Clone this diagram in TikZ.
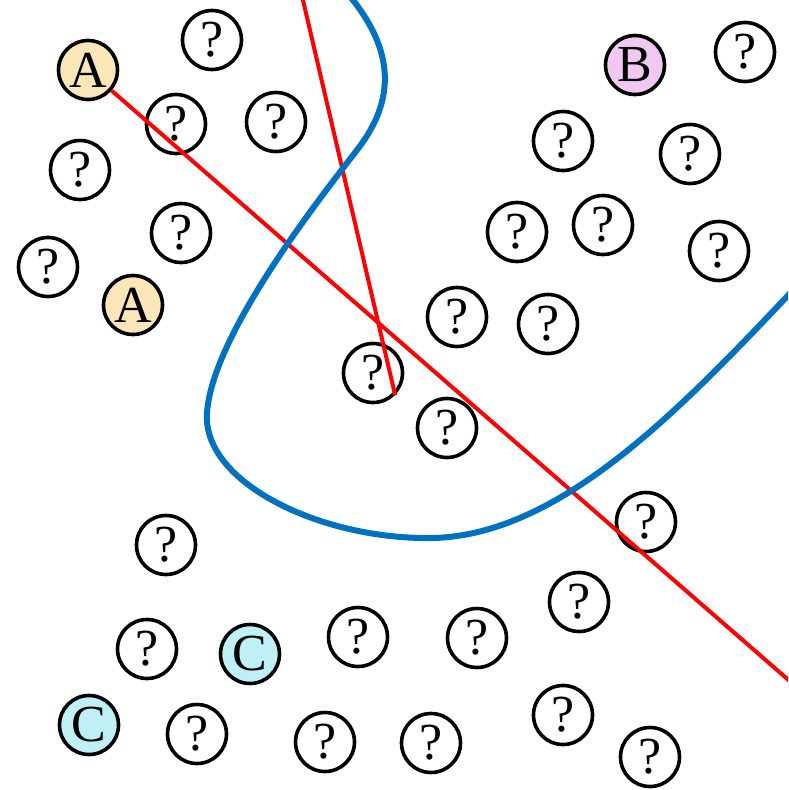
\documentclass[tikz,border=0pt]{standalone}
\usepackage{fontspec}
\setmainfont{Liberation Serif}
\definecolor{fillA}{RGB}{250,230,185}
\definecolor{fillB}{RGB}{240,200,240}
\definecolor{fillC}{RGB}{190,240,245}
\definecolor{curveblue}{RGB}{0,112,192}
\definecolor{linered}{RGB}{255,0,0}
\tikzset{
  ball/.style={circle, draw=black, line width=3.6pt, fill=white, minimum size=59pt, inner sep=0pt,
    font=\fontsize{52}{52}\selectfont},
  ballA/.style={ball, fill=fillA},
  ballB/.style={ball, fill=fillB},
  ballC/.style={ball, fill=fillC},
  redline/.style={draw=linered, line width=4pt},
  blueline/.style={draw=curveblue, line width=6pt},
}
\begin{document}
\begin{tikzpicture}[x=1pt,y=-1pt]
\useasboundingbox[fill=white] (0,0) rectangle (788,790);
% lettered circles
\node[ballA] (a1) at (88,70) {A};
\node[ballA] (a2) at (133,305) {A};
\node[ballB] (b1) at (635,65) {B};
\node[ballC] (c1) at (250,654) {C};
\node[ballC] (c2) at (89,725) {C};
% question circles
\node[ball] (q1) at (212,40) {?};
\node[ball] (q2) at (176,124) {?};
\node[ball] (q3) at (276,122) {?};
\node[ball] (q4) at (80,170) {?};
\node[ball] (q5) at (181,233) {?};
\node[ball] (q6) at (48,267) {?};
\node[ball] (q7) at (745,52) {?};
\node[ball] (q8) at (563,141) {?};
\node[ball] (q9) at (690,154) {?};
\node[ball] (q10) at (517,232) {?};
\node[ball] (q11) at (603,225) {?};
\node[ball] (q12) at (719,251) {?};
\node[ball] (q13) at (457,317) {?};
\node[ball] (q14) at (548,324) {?};
\node[ball] (q15) at (373,373) {?};
\node[ball] (q16) at (447,428) {?};
\node[ball] (q17) at (166,545) {?};
\node[ball] (q18) at (646,522) {?};
\node[ball] (q19) at (579,602) {?};
\node[ball] (q20) at (147,649) {?};
\node[ball] (q21) at (358,637) {?};
\node[ball] (q22) at (477,638) {?};
\node[ball] (q23) at (197,734) {?};
\node[ball] (q24) at (325,742) {?};
\node[ball] (q25) at (431,743) {?};
\node[ball] (q26) at (563,715) {?};
\node[ball] (q27) at (650,757) {?};
% lines
\coordinate (rEnd) at (800,690);
\coordinate (rTop) at (302,-4);
\begin{scope}
\clip (0,0) rectangle (788,790);
\draw[redline] (a1) -- (rEnd);
\draw[redline] (rTop) -- (q15.-45);
\draw[blueline] (348,-6) .. controls (395,50) and (396,100) .. (357,150)
  .. controls (320,198) and (212,335) .. (207,413)
  .. controls (202,482) and (320,540) .. (433,538)
  .. controls (560,535) and (680,410) .. (795,288);
\end{scope}
\end{tikzpicture}
\end{document}
